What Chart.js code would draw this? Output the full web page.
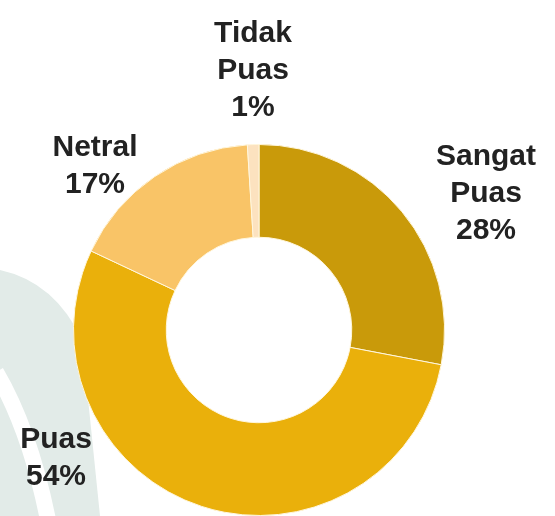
<!DOCTYPE html>
<html>
<head>
<meta charset="utf-8">
<title>Kepuasan</title>
<script src="https://cdn.jsdelivr.net/npm/chart.js@4"></script>
<style>
  html, body { margin: 0; padding: 0; background: #ffffff; }
  #satisfactionChart { display: block; }
</style>
</head>
<body>
<canvas id="satisfactionChart" width="555" height="516"></canvas>
<script>
'use strict';

// ********************* CHART DATA ***************************

let categories = ['Sangat Puas', 'Puas', 'Netral', 'Tidak Puas'];
let percentages = [28, 54, 17, 1];
let sliceColors = ['#c99a0a', '#eab00b', '#f9c467', '#fce2bf'];

// label block offsets from the doughnut centre (x centre, first baseline)
let labelOffsets = [
  { dx: 227, dy: -165 },
  { dx: -203, dy: 118 },
  { dx: -164, dy: -174 },
  { dx: -6, dy: -288 }
];


// ********************* PLUGINS ******************************

// faint logo shapes behind the lower left of the ring
const watermark = {
  id: 'watermark',
  beforeDraw(chart) {
    const c = chart.ctx;
    c.save();
    c.fillStyle = '#e2ebe8';
    c.beginPath();
    c.moveTo(0, 270);
    c.quadraticCurveTo(55, 282, 82, 340);
    c.lineTo(100, 516);
    c.lineTo(0, 516);
    c.closePath();
    c.fill();

    c.strokeStyle = '#ffffff';
    c.lineWidth = 16;
    c.beginPath();
    c.moveTo(-4, 372);
    c.quadraticCurveTo(30, 430, 48, 520);
    c.stroke();
    c.restore();
  }
};

// category name + percent written outside each slice
const sliceLabels = {
  id: 'sliceLabels',
  afterDatasetsDraw(chart, args, opts) {
    const c = chart.ctx;
    const meta = chart.getDatasetMeta(0);
    const values = chart.data.datasets[0].data;
    c.save();
    c.font = 'bold 30px "Liberation Sans", Arial, sans-serif';
    c.fillStyle = '#222222';
    c.textAlign = 'center';
    c.textBaseline = 'alphabetic';
    meta.data.forEach((arc, i) => {
      const off = opts.offsets[i];
      const lines = chart.data.labels[i].split(' ');
      lines.push(values[i] + '%');
      lines.forEach((line, j) => {
        c.fillText(line, arc.x + off.dx, arc.y + off.dy + j * 37);
      });
    });
    c.restore();
  }
};


// ********************* RENDER CHART *************************

let ctx = document.getElementById('satisfactionChart');

new Chart(ctx, {
  type: 'doughnut',
  data: {
    labels: categories,
    datasets: [{
      data: percentages,
      backgroundColor: sliceColors,
      borderColor: '#fff6dc',
      borderWidth: 1
    }]
  },
  options: {
    responsive: false,
    animation: false,
    cutout: '50%',
    layout: {
      padding: { top: 144, bottom: 0, left: 0, right: 37 }
    },
    plugins: {
      legend: { display: false },
      tooltip: { enabled: false },
      sliceLabels: { offsets: labelOffsets }
    }
  },
  plugins: [watermark, sliceLabels]
});
</script>
</body>
</html>
